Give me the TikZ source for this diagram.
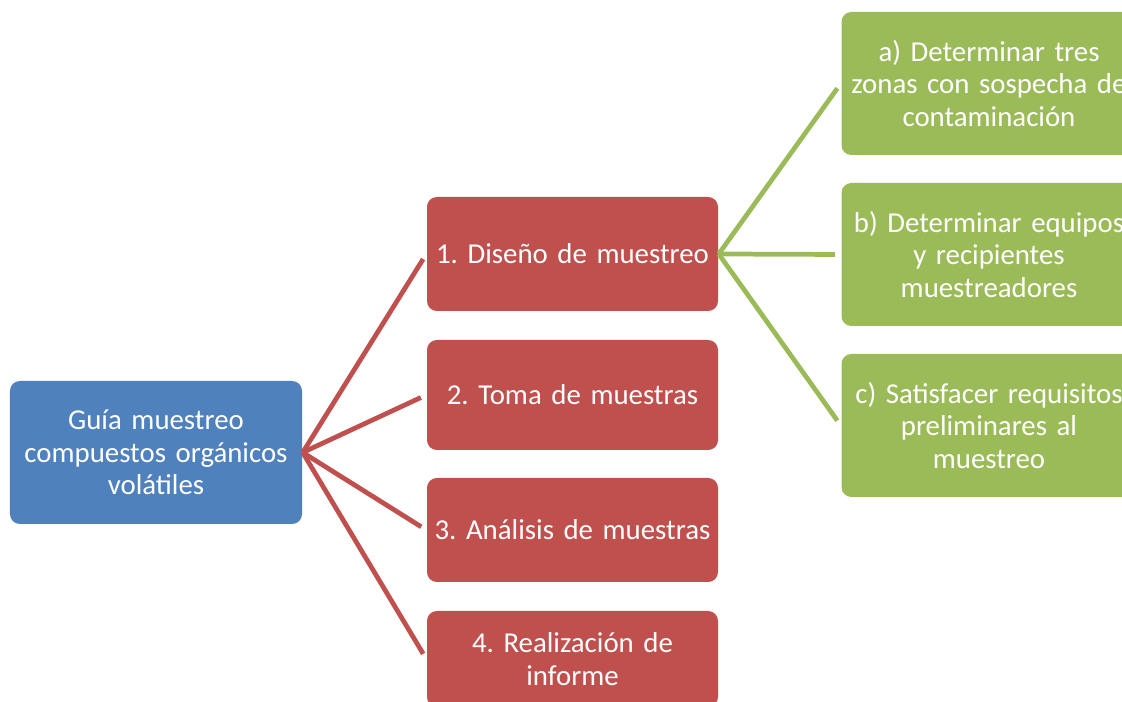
\documentclass[tikz,border=0pt]{standalone}
\usepackage{fontspec}
\setmainfont{Carlito}
\frenchspacing
\definecolor{boxblue}{HTML}{4F81BD}
\definecolor{boxred}{HTML}{C0504D}
\definecolor{boxgreen}{HTML}{9BBB59}
\tikzset{
	caja/.style={rounded corners=2.8pt, text=white, align=center, inner sep=0pt,
		font=\fontsize{8.2pt}{9.3pt}\selectfont},
	rama/.style={line width=1.35pt, shorten >=1.7pt}
}

\begin{document}
\begin{tikzpicture}
		\clip (0,0) rectangle (11.22,7.02);
		\useasboundingbox (0,0) rectangle (11.22,7.02);
		\node[caja, fill=boxblue, minimum width=2.92cm, minimum height=1.43cm, text width=2.9cm] (guia) at (1.56,2.495) {Guía muestreo\\compuestos orgánicos\\volátiles};
		
		\node[caja, fill=boxred, minimum width=2.91cm, minimum height=1.14cm, text width=2.9cm] (diseno) at (5.725,4.48) {1. Diseño de muestreo};
		\node[caja, fill=boxred, minimum width=2.91cm, minimum height=1.10cm, text width=2.9cm] (toma) at (5.725,3.07) {2. Toma de muestras};
		\node[caja, fill=boxred, minimum width=2.91cm, minimum height=1.04cm, text width=2.9cm] (analisis) at (5.725,1.72) {3. Análisis de muestras};
		\node[caja, fill=boxred, minimum width=2.91cm, minimum height=0.96cm, text width=2.9cm] (informe) at (5.725,0.43) {4. Realización de\\informe};
		
		\node[caja, fill=boxgreen, minimum width=2.92cm, minimum height=1.43cm, text width=2.95cm] (zonas) at (9.89,6.185) {a) Determinar tres\\zonas con sospecha de\\contaminación};
		\node[caja, fill=boxgreen, minimum width=2.92cm, minimum height=1.43cm, text width=2.95cm] (equipos) at (9.89,4.475) {b) Determinar equipos\\y recipientes\\muestreadores};
		\node[caja, fill=boxgreen, minimum width=2.92cm, minimum height=1.43cm, text width=2.95cm] (requisitos) at (9.89,2.765) {c) Satisfacer requisitos\\preliminares al\\muestreo};
		
		\path [rama, draw=boxred]
		(guia.east) edge (diseno.west)
		(guia.east) edge (toma.west)
		(guia.east) edge (analisis.west)
		(guia.east) edge (informe.west);
		\path [rama, draw=boxgreen]
		(diseno.east) edge (zonas.west)
		(diseno.east) edge (equipos.west)
		(diseno.east) edge (requisitos.west);
	\end{tikzpicture}
\end{document}
